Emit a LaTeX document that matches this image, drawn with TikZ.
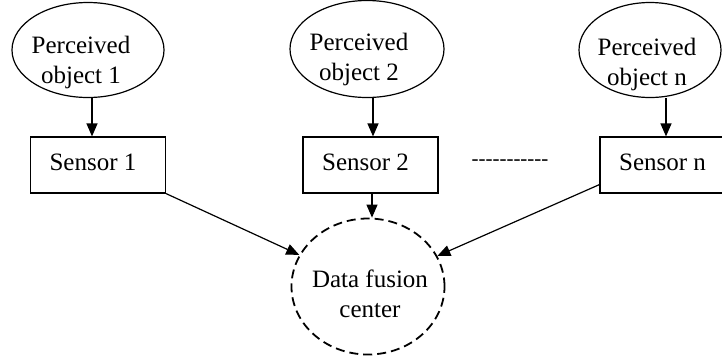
\documentclass[tikz,border=0pt]{standalone}
\usepackage{fontspec}
\setmainfont{Liberation Serif}
% plain face without TeX ligatures, so a run of hyphens stays hyphens
\newfontfamily\plainserif{Liberation Serif}
\usetikzlibrary{arrows.meta,shapes.geometric}
\begin{document}
\begin{tikzpicture}[x=1pt,y=-1pt,
  every node/.style={font=\fontsize{25}{30}\selectfont, inner sep=0pt},
  thing/.style={draw, ellipse, line width=1.2pt},
  objtext/.style={align=center},
  sensor/.style={draw, rectangle, line width=1.2pt, minimum width=135pt,
    minimum height=56pt, text height=17pt, text depth=6pt,
    execute at begin node={\hspace*{-10pt}}},
  fusion/.style={draw, ellipse, dash pattern=on 9pt off 5pt, line width=1.8pt,
    minimum width=153pt, minimum height=136pt},
  arr/.style={line width=1.2pt, -{Triangle[length=13pt,width=11pt]}}]
\useasboundingbox (0,0) rectangle (722,360);
\clip (0,0) rectangle (722,360);

% perceived objects
\node[thing, minimum width=152pt, minimum height=95pt] (e1) at (88,50) {};
\node[objtext] (t1) at (81,62) {Perceived\\object 1};
\node[thing, minimum width=154pt, minimum height=97pt] (e2) at (367,49) {};
\node[objtext] (t2) at (359,59) {Perceived\\object 2};
\node[thing, minimum width=142pt, minimum height=95pt] (en) at (650,50) {};
\node[objtext] (tn) at (647,64) {Perceived\\object n};

% sensors
\node[sensor] (s1) at (98,165) {Sensor 1};
\node[sensor] (s2) at (370.5,165) {Sensor 2};
\node[sensor] (sn) at (667.5,165) {Sensor n};
\node[anchor=base, font=\plainserif\fontsize{21}{25}\selectfont] (dots) at (510,165.7) {-----------};

% fusion center
\node[fusion] (fc) at (368,286.5) {};
\node[objtext] (fct) at (370,293.5) {Data fusion\\center};

% arrow columns
\coordinate (a1) at (92,0);
\coordinate (a2) at (373,0);
\coordinate (a3) at (372,0);
\coordinate (an) at (666,0);

\draw[arr] (e1.south -| a1) -- (s1.north -| a1);
\draw[arr] (e2.south -| a2) -- (s2.north -| a2);
\draw[arr] (en.south -| an) -- (sn.north -| an);

\draw[arr] (s1.south east) -- (fc);
\draw[arr] (s2.south -| a3) -- (fc.north -| a3);
\draw[arr] ([yshift=9pt]sn.south west) -- (fc);
\end{tikzpicture}
\end{document}
